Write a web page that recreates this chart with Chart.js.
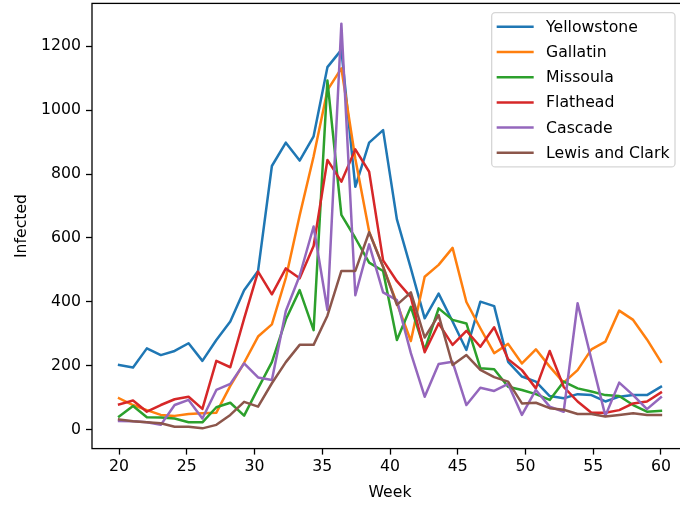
<!DOCTYPE html>
<html><head><meta charset="utf-8">
<script src="https://cdn.jsdelivr.net/npm/chart.js@4"></script>
<style>
html,body{margin:0;padding:0;background:#fff;overflow:hidden;}
#wrap{width:680px;height:505px;overflow:hidden;position:relative;background:#fff;}
canvas{display:block;}
</style></head><body>
<div id="wrap"><canvas id="c" width="700" height="505"></canvas></div>
<script>
// ---- data ----
const weeks = [20.00, 21.03, 22.05, 23.08, 24.10, 25.13, 26.15, 27.18, 28.21, 29.23,
               30.26, 31.28, 32.31, 33.33, 34.36, 35.38, 36.41, 37.44, 38.46, 39.49,
               40.51, 41.54, 42.56, 43.59, 44.62, 45.64, 46.67, 47.69, 48.72, 49.74,
               50.77, 51.79, 52.82, 53.85, 54.87, 55.90, 56.92, 57.95, 58.97, 60.00];
const yellowstone = [203, 195, 255, 234, 247, 271, 216, 281, 339, 437,
                     497, 825, 898, 842, 918, 1134, 1188, 760, 898, 937,
                     658, 505, 349, 426, 339, 250, 401, 387, 213, 167,
                     151, 106, 99, 112, 109, 89, 104, 109, 109, 135];
const gallatin = [99, 78, 62, 47, 44, 50, 52, 54, 138, 210,
                  292, 330, 475, 670, 855, 1062, 1130, 848, 620, 510,
                  396, 278, 479, 516, 569, 400, 318, 240, 269, 208,
                  252, 198, 148, 187, 252, 276, 373, 344, 283, 213];
const missoula = [42, 75, 40, 39, 36, 24, 24, 71, 85, 45,
                  130, 212, 345, 437, 312, 1092, 672, 600, 523, 497,
                  281, 385, 250, 380, 344, 333, 193, 190, 135, 125,
                  112, 94, 151, 130, 120, 109, 106, 78, 57, 60];
const flathead = [80, 92, 57, 78, 96, 104, 66, 216, 196, 348,
                  495, 424, 505, 474, 575, 844, 776, 877, 807, 530,
                  465, 415, 243, 333, 266, 310, 260, 321, 221, 187,
                  130, 247, 135, 89, 54, 54, 62, 83, 89, 117];
const cascade = [28, 27, 24, 16, 78, 94, 36, 125, 144, 208,
                 164, 156, 372, 482, 636, 375, 1270, 421, 580, 430,
                 406, 240, 104, 206, 213, 78, 132, 122, 144, 47,
                 125, 73, 57, 396, 220, 44, 148, 109, 65, 102];
const lewisAndClark = [33, 27, 24, 21, 10, 10, 5, 16, 47, 88,
                       73, 146, 212, 266, 266, 357, 497, 497, 618, 510,
                       391, 430, 289, 359, 203, 234, 188, 165, 151, 83,
                       85, 68, 63, 50, 50, 42, 47, 52, 47, 47];
const seriesNames = ['Yellowstone', 'Gallatin', 'Missoula', 'Flathead', 'Cascade', 'Lewis and Clark'];
const xTicks = [20, 25, 30, 35, 40, 45, 50, 55, 60];
const yTicks = [0, 200, 400, 600, 800, 1000, 1200];
const xTitle = 'Week';
const yTitle = 'Infected';

// ---- styling ----
const seriesValues = [yellowstone, gallatin, missoula, flathead, cascade, lewisAndClark];
const colors = ['#1f77b4', '#ff7f0e', '#2ca02c', '#d62728', '#9467bd', '#8c564b'];
const FAMILY = "'DejaVu Sans', sans-serif";
const FSIZE = 15.7;
const FONT = {family: FAMILY, size: FSIZE, lineHeight: 1.2};

const datasets = seriesNames.map((name, i) => ({
  label: name,
  data: weeks.map((w, k) => ({x: w, y: seriesValues[i][k]})),
  borderColor: colors[i],
  backgroundColor: colors[i],
  borderWidth: 2.5,
  pointRadius: 0,
  pointHoverRadius: 0,
  tension: 0,
  fill: false,
  borderJoinStyle: 'round',
  borderCapStyle: 'square',
  order: seriesNames.length - i
}));

const spines = {
  id: 'spines',
  afterDatasetsDraw(chart) {
    const {ctx, chartArea: a} = chart;
    ctx.save();
    ctx.strokeStyle = '#000';
    ctx.lineWidth = 1.3;
    ctx.strokeRect(a.left, a.top, a.right - a.left, a.bottom - a.top);
    ctx.restore();
  }
};

function roundRect(ctx, x, y, w, h, r) {
  ctx.beginPath();
  ctx.moveTo(x + r, y);
  ctx.lineTo(x + w - r, y);
  ctx.arcTo(x + w, y, x + w, y + r, r);
  ctx.lineTo(x + w, y + h - r);
  ctx.arcTo(x + w, y + h, x + w - r, y + h, r);
  ctx.lineTo(x + r, y + h);
  ctx.arcTo(x, y + h, x, y + h - r, r);
  ctx.lineTo(x, y + r);
  ctx.arcTo(x, y, x + r, y, r);
  ctx.closePath();
}

const boxLegend = {
  id: 'boxLegend',
  afterDraw(chart) {
    const ctx = chart.ctx;
    const ds = chart.data.datasets;
    ctx.save();
    ctx.font = FSIZE + 'px ' + FAMILY;
    let maxW = 0;
    ds.forEach(d => { maxW = Math.max(maxW, ctx.measureText(d.label).width); });
    const padL = 5, handleW = 37, gap = 12.4, padR = 5.5;
    const w = padL + handleW + gap + maxW + padR;
    const right = 675, top = 12.7, rowH = 25.2, firstRow = 14.1;
    const h = firstRow * 2 + rowH * (ds.length - 1);
    const left = right - w;
    roundRect(ctx, left, top, w, h, 3.5);
    ctx.fillStyle = 'rgba(255,255,255,0.8)';
    ctx.fill();
    ctx.strokeStyle = '#d6d6d6';
    ctx.lineWidth = 1.3;
    ctx.stroke();
    ds.forEach((d, i) => {
      const cy = top + firstRow + i * rowH;
      ctx.beginPath();
      ctx.moveTo(left + padL, cy);
      ctx.lineTo(left + padL + handleW, cy);
      ctx.strokeStyle = d.borderColor;
      ctx.lineWidth = 2.5;
      ctx.stroke();
      ctx.fillStyle = '#000';
      ctx.textBaseline = 'middle';
      ctx.textAlign = 'left';
      ctx.fillText(d.label, left + padL + handleW + gap, cy + 1);
    });
    ctx.restore();
  }
};

const gridOpts = {drawOnChartArea: false, drawTicks: true, tickLength: 6, tickWidth: 1.3, tickColor: '#000'};
function zeroPad(s) { s.paddingTop = 0; s.paddingBottom = 0; s.paddingLeft = 0; s.paddingRight = 0; }

new Chart(document.getElementById('c'), {
  type: 'line',
  data: {datasets},
  options: {
    responsive: false,
    animation: false,
    events: [],
    layout: {padding: {top: 3.4, right: 12, bottom: 0, left: 0}},
    plugins: {legend: {display: false}, tooltip: {enabled: false}},
    scales: {
      x: {
        type: 'linear', min: 18, max: 62,
        afterBuildTicks: s => { s.ticks = xTicks.map(v => ({value: v})); },
        afterFit: s => { s.height = 56.4; zeroPad(s); },
        grid: gridOpts,
        border: {display: false},
        ticks: {color: '#000', font: FONT, padding: 3, maxRotation: 0, autoSkip: false, callback: v => String(v)},
        title: {display: true, text: xTitle, color: '#000', font: FONT, padding: {top: 0, bottom: 3}}
      },
      y: {
        type: 'linear', min: -58.25, max: 1333.25,
        afterBuildTicks: s => { s.ticks = yTicks.map(v => ({value: v})); },
        afterFit: s => { s.width = 92; zeroPad(s); },
        grid: gridOpts,
        border: {display: false},
        ticks: {color: '#000', font: FONT, padding: 5, autoSkip: false, callback: v => String(v)},
        title: {display: true, text: yTitle, color: '#000', font: FONT, padding: {top: 12.4, bottom: 0}}
      }
    }
  },
  plugins: [spines, boxLegend]
});
</script>
</body></html>
